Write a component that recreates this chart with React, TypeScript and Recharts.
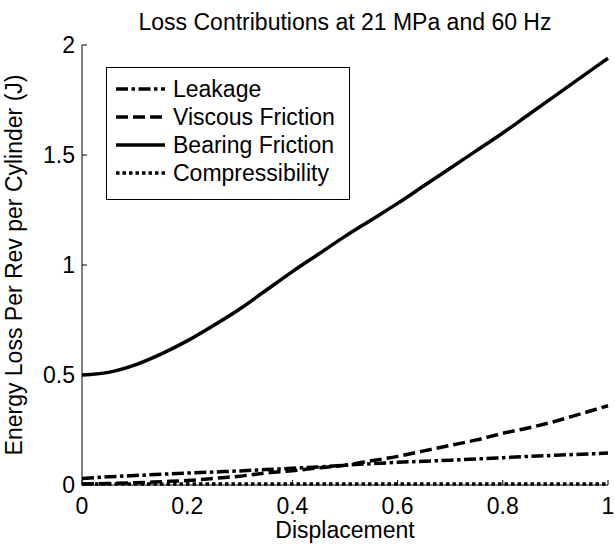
import { LineChart, Line, XAxis, YAxis } from 'recharts';

const displacement = [0, 0.05, 0.1, 0.15, 0.2, 0.25, 0.3, 0.35, 0.4, 0.45, 0.5, 0.55, 0.6, 0.65, 0.7, 0.75, 0.8, 0.85, 0.9, 0.95, 1];
const leakage = [0.03, 0.037, 0.043, 0.049, 0.054, 0.059, 0.064, 0.07, 0.076, 0.082, 0.09, 0.097, 0.103, 0.108, 0.113, 0.118, 0.124, 0.13, 0.135, 0.14, 0.145];
const viscousFriction = [0.005, 0.007, 0.01, 0.015, 0.02, 0.03, 0.04, 0.055, 0.065, 0.078, 0.09, 0.11, 0.13, 0.155, 0.18, 0.205, 0.235, 0.26, 0.29, 0.325, 0.36];
const bearingFriction = [0.5, 0.512, 0.545, 0.595, 0.655, 0.725, 0.8, 0.885, 0.97, 1.05, 1.13, 1.205, 1.28, 1.36, 1.44, 1.52, 1.6, 1.685, 1.77, 1.855, 1.94];
const compressibility = [0.004, 0.004, 0.004, 0.004, 0.004, 0.004, 0.004, 0.004, 0.005, 0.005, 0.005, 0.005, 0.005, 0.005, 0.005, 0.005, 0.005, 0.005, 0.005, 0.005, 0.005];

const xTicks = [0, 0.2, 0.4, 0.6, 0.8, 1];
const yTicks = [0, 0.5, 1, 1.5, 2];

const FONT = '"Liberation Sans", Arial, Helvetica, sans-serif';
const FS = 23;
const LW = 3.5;

const series = [
    { key: 'leakage', name: 'Leakage', values: leakage, dash: '12 3.5 3.5 3.5' },
    { key: 'viscous', name: 'Viscous Friction', values: viscousFriction, dash: '12 5' },
    { key: 'bearing', name: 'Bearing Friction', values: bearingFriction, dash: undefined },
    { key: 'compress', name: 'Compressibility', values: compressibility, dash: '3.5 3' },
];

const data = displacement.map((x, i) => {
    const row: Record<string, number> = { x };
    series.forEach(s => { row[s.key] = s.values[i]; });
    return row;
});

const tickStyle = { fill: '#000', fontSize: FS, fontFamily: FONT };

export default function App() {
    return (
        <div style={{ position: 'absolute', left: 0, top: 0, width: 615, height: 545, background: '#fff', fontFamily: FONT }}>
            <div style={{ position: 'absolute', left: 82, width: 526, top: 11, textAlign: 'center', fontSize: FS, lineHeight: `${FS}px`, color: '#000' }}>
                Loss Contributions at 21 MPa and 60 Hz
            </div>
            <LineChart width={615} height={545} data={data} margin={{ top: 45, right: 7, bottom: 0, left: 0 }}>
                <XAxis
                    type="number"
                    dataKey="x"
                    domain={[0, 1]}
                    ticks={xTicks}
                    height={60}
                    stroke="#000"
                    tickSize={-5}
                    tickMargin={18}
                    tick={tickStyle}
                    interval={0}
                    label={{ value: 'Displacement', position: 'insideBottom', offset: 7, style: { fill: '#000', fontSize: FS, fontFamily: FONT } }}
                />
                <YAxis
                    type="number"
                    domain={[0, 2]}
                    ticks={yTicks}
                    width={82}
                    stroke="#000"
                    tickSize={-5}
                    tickMargin={12}
                    tick={tickStyle}
                    interval={0}
                    label={{ value: 'Energy Loss Per Rev per Cylinder (J)', angle: -90, position: 'center', dx: -27, style: { fill: '#000', fontSize: FS, fontFamily: FONT, textAnchor: 'middle' } }}
                />
                {series.map(s => (
                    <Line
                        key={s.key}
                        dataKey={s.key}
                        name={s.name}
                        type="monotone"
                        stroke="#000"
                        strokeWidth={LW}
                        strokeDasharray={s.dash}
                        dot={false}
                        activeDot={false}
                        isAnimationActive={false}
                    />
                ))}
            </LineChart>
            <div style={{ position: 'absolute', left: 106, top: 67, width: 242, height: 124, border: '1px solid #000', background: '#fff', paddingTop: 7, boxSizing: 'content-box' }}>
                {series.map(s => (
                    <div key={s.key} style={{ display: 'flex', alignItems: 'center', height: 28 }}>
                        <svg width={49} height={28} style={{ marginLeft: 9 }}>
                            <line x1={0} y1={14} x2={49} y2={14} stroke="#000" strokeWidth={LW} strokeDasharray={s.dash} />
                        </svg>
                        <span style={{ marginLeft: 8, fontSize: FS, color: '#000', whiteSpace: 'nowrap' }}>{s.name}</span>
                    </div>
                ))}
            </div>
        </div>
    );
}
